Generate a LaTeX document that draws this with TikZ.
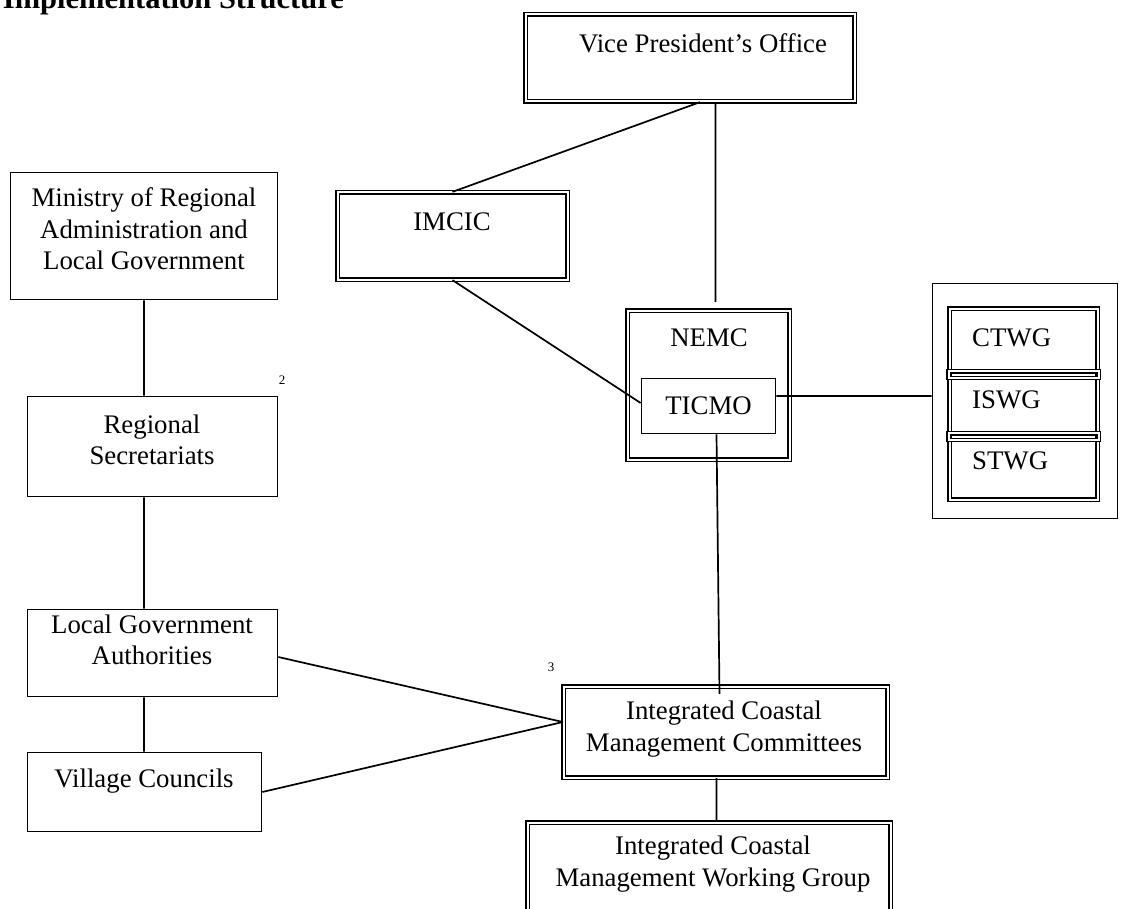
\documentclass[tikz,border=0pt]{standalone}
\usepackage{fontspec}
\setmainfont{Liberation Serif}
\usepackage{tikz}

\begin{document}
\begin{tikzpicture}[x=1pt,y=-1pt,
    every node/.style={font=\fontsize{26.8}{31.5}\selectfont},
    box/.style={draw,line width=1.7pt,inner sep=0pt},
    dbox/.style={draw,double,line width=1.3pt,double distance=2pt,inner sep=0pt},
    txt/.style={align=center,inner sep=0pt},
    note/.style={inner sep=0pt,font=\fontsize{13}{13}\selectfont}]
  \useasboundingbox (0,0) rectangle (1126,909);
  \clip (0,0) rectangle (1126,909);
  \node[inner sep=0pt,anchor=base east,font=\fontsize{30.5}{36}\bfseries] (title) at (344,9) {Implementation Structure};
  % top of the tree
  \node[dbox,minimum width=329,minimum height=87] (vpo) at (690,58) {};
  \node[txt] (vpo-t) at (703,43) {Vice President’s Office};
  \node[dbox,minimum width=230,minimum height=87] (imcic) at (452.5,236) {};
  \node[txt] (imcic-t) at (452,222) {IMCIC};
  \node[dbox,minimum width=162,minimum height=149] (nemc) at (708.5,385) {};
  \node[txt] (nemc-t) at (709,338) {NEMC};
  \node[box,minimum width=134,minimum height=55] (ticmo) at (708.5,406) {TICMO};
  % working groups
  \node[box,minimum width=185,minimum height=235] (wg) at (1025,401) {};
  \node[dbox,minimum width=148,minimum height=191] (wgin) at (1023.5,404) {};
  \node[dbox,minimum width=150,minimum height=6.6] (sep1) at (1023.5,374.5) {};
  \node[dbox,minimum width=150,minimum height=6.6] (sep2) at (1023.5,436.5) {};
  \node[txt,anchor=west] (ctwg) at (972,338) {CTWG};
  \node[txt,anchor=west] (iswg) at (972,400) {ISWG};
  \node[txt,anchor=west] (stwg) at (972,461) {STWG};
  % left column
  \node[box,minimum width=267,minimum height=127] (min) at (144,236) {};
  \node[txt] (min-t) at (144,229) {Ministry of Regional\\Administration and\\Local Government};
  \node[box,minimum width=250,minimum height=100] (rs) at (152.5,446.5) {};
  \node[txt] (rs-t) at (152,440) {Regional\\Secretariats};
  \node[box,minimum width=250,minimum height=87] (lga) at (152.5,653) {};
  \node[txt] (lga-t) at (152,640) {Local Government\\Authorities};
  \node[box,minimum width=234,minimum height=79] (vc) at (144.5,792) {};
  \node[txt] (vc-t) at (144,781) {Village Councils};
  % bottom
  \node[dbox,minimum width=324,minimum height=91] (icmc) at (725.5,732) {};
  \node[txt] (icmc-t) at (724,729) {Integrated Coastal\\Management Committees};
  \node[dbox,minimum width=363,minimum height=135] (icmwg) at (709,890) {};
  \node[txt] (icmwg-t) at (713,864) {Integrated Coastal\\Management Working Group};
  \node[note] (n2) at (282,380) {2};
  \node[note] (n3) at (551,667) {3};

  \draw[line width=1.7pt] ([xshift=10pt]vpo.south) -- (imcic.north)
    ([xshift=7pt]nemc.north |- vpo.south) -- ([xshift=7pt,yshift=8pt]nemc.north)
    (imcic.south) -- ([yshift=3pt]ticmo.west)
    ([yshift=10pt]ticmo.east) -- ([yshift=10pt]ticmo.east -| wg.west)
    ([xshift=8pt]ticmo.south) -- ([xshift=11pt,yshift=-8pt]ticmo.south |- icmc.north)
    ([xshift=-9pt]icmc.south) -- ([xshift=-9pt]icmc.south |- icmwg.north)
    (min.south) -- (min.south |- rs.north)
    (min.south |- rs.south) -- (min.south |- lga.north)
    (min.south |- lga.south) -- (min.south |- vc.north)
    ([yshift=-4pt]lga.east) -- ([yshift=10pt]icmc.west)
    (vc.east) -- ([yshift=10pt]icmc.west);
\end{tikzpicture}
\end{document}
